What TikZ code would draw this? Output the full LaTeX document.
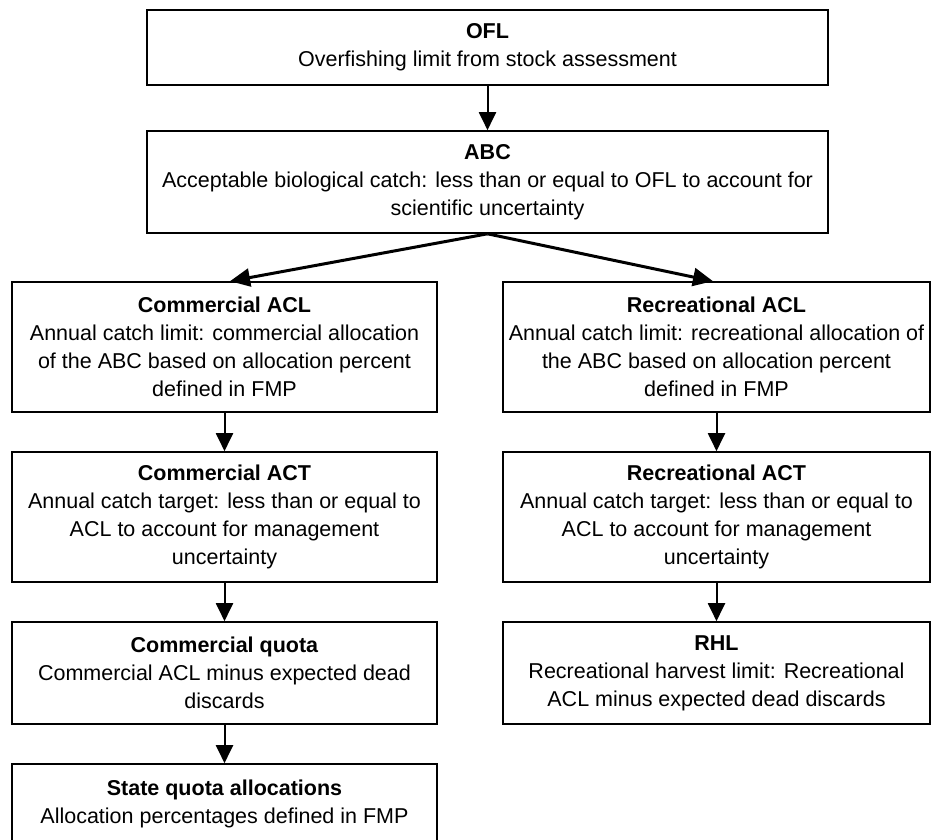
\documentclass[tikz,border=0pt]{standalone}
\usepackage{fontspec}
\setmainfont{Liberation Sans}
\usetikzlibrary{arrows.meta,calc}
\tikzset{
  box/.style={draw=black, line width=1.6pt, fill=white, inner sep=0pt, align=center,
    font=\fontsize{21.5}{28}\selectfont},
  arr/.style={draw=black, line width=2pt, -{Triangle[length=18pt,width=17pt]}},
  diag/.style={draw=black, line width=3pt, -{Triangle[length=20pt,width=18pt]}}
}
\begin{document}
\begin{tikzpicture}[x=1pt,y=-1pt]
\useasboundingbox (0,0) rectangle (932,840);
\clip (0,0) rectangle (932,840);

\node[box, minimum width=681pt, minimum height=75pt] (ofl) at (487.5,47.5)
  {\textbf{OFL}\\Overfishing limit from stock assessment};
\node[box, minimum width=681pt, minimum height=102pt] (abc) at (487.5,182)
  {\textbf{ABC}\\Acceptable biological catch: less than or equal to OFL to account for\\scientific uncertainty};

\node[box, minimum width=425pt, minimum height=130pt] (cacl) at (224.5,347)
  {\textbf{Commercial ACL}\\Annual catch limit: commercial allocation\\of the ABC based on allocation percent\\defined in FMP};
\node[box, minimum width=427pt, minimum height=130pt] (racl) at (716.5,347)
  {\textbf{Recreational ACL}\\Annual catch limit: recreational allocation of\\the ABC based on allocation percent\\defined in FMP};

\node[box, minimum width=425pt, minimum height=130pt] (cact) at (224.5,517)
  {\textbf{Commercial ACT}\\Annual catch target: less than or equal to\\ACL to account for management\\uncertainty};
\node[box, minimum width=427pt, minimum height=130pt] (ract) at (716.5,517)
  {\textbf{Recreational ACT}\\Annual catch target: less than or equal to\\ACL to account for management\\uncertainty};

\node[box, minimum width=425pt, minimum height=102pt] (cq) at (224.5,673)
  {\textbf{Commercial quota}\\Commercial ACL minus expected dead\\discards};
\node[box, minimum width=427pt, minimum height=102pt] (rhl) at (716.5,673)
  {\textbf{RHL}\\Recreational harvest limit: Recreational\\ACL minus expected dead discards};

\node[box, minimum width=425pt, minimum height=80pt] (sq) at (224.5,804)
  {\textbf{State quota allocations}\\Allocation percentages defined in FMP};

\coordinate (ctip) at ($(cacl.north)+(5.5,0)$);
\coordinate (rtip) at ($(racl.north)+(-3.5,0)$);

\draw[arr] (ofl.south) -- (abc.north);
\draw[diag] (abc.south) -- (ctip);
\draw[diag] (abc.south) -- (rtip);
\draw[arr] (cacl.south) -- (cact.north);
\draw[arr] (racl.south) -- (ract.north);
\draw[arr] (cact.south) -- (cq.north);
\draw[arr] (ract.south) -- (rhl.north);
\draw[arr] (cq.south) -- (sq.north);
\end{tikzpicture}
\end{document}
